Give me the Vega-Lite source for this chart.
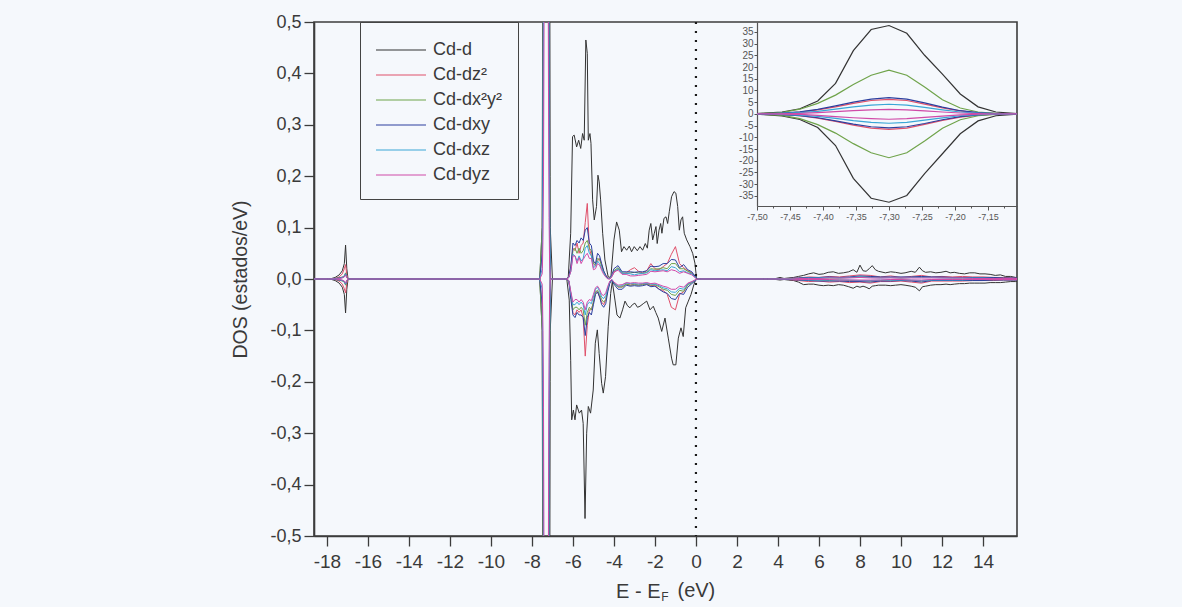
{
  "$schema": "https://vega.github.io/schema/vega-lite/v6.json",
  "width": 703,
  "height": 514,
  "autosize": {"type": "none"},
  "padding": {"left": 314, "top": 22, "right": 165, "bottom": 71},
  "background": "#f5f8fc",
  "config": {
    "view": {"stroke": "#3c3c3c", "strokeWidth": 1.6},
    "font": "Liberation Sans",
    "axis": {
      "grid": false,
      "domainColor": "#3c3c3c",
      "tickColor": "#3c3c3c",
      "labelColor": "#3a3a3a",
      "titleColor": "#3a3a3a",
      "labelFont": "Liberation Sans",
      "titleFont": "Liberation Sans",
      "titleFontWeight": "normal",
      "labelFlush": false,
      "labelOverlap": false,
      "labelBound": false
    }
  },
  "datasets": {
    "dos": [
      {"s": "u", "e": [-18.63, -17.95, -16.9, -7.62, -7.0, -6.4, 0.2, 3.3],
       "Cd-d": [0, 0, 0, 0, 0, 0, 0, 0], "Cd-dz²": [0, 0, 0, 0, 0, 0, 0, 0], "Cd-dx²y²": [0, 0, 0, 0, 0, 0, 0, 0],
       "Cd-dxy": [0, 0, 0, 0, 0, 0, 0, 0], "Cd-dxz": [0, 0, 0, 0, 0, 0, 0, 0], "Cd-dyz": [0, 0, 0, 0, 0, 0, 0, 0]},
      {"s": "d", "e": [-18.63, -17.95, -16.9, -7.62, -7.0, -6.4, 0.2, 3.3],
       "Cd-d": [0, 0, 0, 0, 0, 0, 0, 0], "Cd-dz²": [0, 0, 0, 0, 0, 0, 0, 0], "Cd-dx²y²": [0, 0, 0, 0, 0, 0, 0, 0],
       "Cd-dxy": [0, 0, 0, 0, 0, 0, 0, 0], "Cd-dxz": [0, 0, 0, 0, 0, 0, 0, 0], "Cd-dyz": [0, 0, 0, 0, 0, 0, 0, 0]},

      {"s": "u", "e": [-17.85, -17.6, -17.4, -17.25, -17.15, -17.09, -17.03, -16.97],
       "Cd-d": [0, 0.003, 0.008, 0.016, 0.03, 0.066, 0.02, 0],
       "Cd-dz²": [0, 0.001, 0.004, 0.01, 0.02, 0.028, 0.008, 0],
       "Cd-dx²y²": [0, 0.001, 0.002, 0.004, 0.006, 0.012, 0.004, 0],
       "Cd-dxy": [0, 0.001, 0.002, 0.003, 0.005, 0.01, 0.003, 0],
       "Cd-dxz": [0, 0, 0.001, 0.003, 0.005, 0.01, 0.003, 0],
       "Cd-dyz": [0, 0, 0.001, 0.002, 0.004, 0.008, 0.002, 0]},
      {"s": "d", "e": [-17.85, -17.6, -17.4, -17.25, -17.15, -17.09, -17.03, -16.97],
       "Cd-d": [0, -0.003, -0.008, -0.016, -0.03, -0.066, -0.02, 0],
       "Cd-dz²": [0, -0.001, -0.004, -0.01, -0.019, -0.027, -0.008, 0],
       "Cd-dx²y²": [0, -0.001, -0.002, -0.004, -0.006, -0.012, -0.004, 0],
       "Cd-dxy": [0, -0.001, -0.002, -0.003, -0.005, -0.01, -0.003, 0],
       "Cd-dxz": [0, 0, -0.001, -0.003, -0.005, -0.01, -0.003, 0],
       "Cd-dyz": [0, 0, -0.001, -0.002, -0.004, -0.008, -0.002, 0]},

      {"s": "u", "e": [-7.5, -7.489, -7.462, -7.435, -7.408, -7.381, -7.354, -7.327, -7.3, -7.273, -7.246, -7.219, -7.192, -7.165, -7.138, -7.111, -7.106],
       "Cd-d": [0.1, 0.3, 0.8, 2.2, 5.5, 13, 27, 36, 37.7, 34.4, 25, 17, 8.5, 3, 0.8, 0.2, 0.1],
       "Cd-dz²": [0.05, 0.1, 0.27, 0.75, 1.7, 3.0, 4.5, 5.7, 6.2, 5.7, 4.2, 2.6, 1.25, 0.47, 0.1, 0.03, 0],
       "Cd-dx²y²": [0.1, 0.2, 0.6, 2, 4.5, 8, 12.5, 16.5, 18.7, 16.5, 11.5, 6, 2.5, 0.8, 0.2, 0.05, 0],
       "Cd-dxy": [0.05, 0.1, 0.32, 0.85, 1.9, 3.4, 5.0, 6.3, 6.9, 6.3, 4.7, 2.9, 1.35, 0.5, 0.15, 0.05, 0],
       "Cd-dxz": [0.02, 0.05, 0.2, 0.5, 1.1, 2, 2.95, 3.7, 4.1, 3.7, 2.75, 1.75, 0.8, 0.3, 0.1, 0.02, 0],
       "Cd-dyz": [0.01, 0.02, 0.08, 0.2, 0.5, 0.95, 1.35, 1.7, 1.9, 1.7, 1.25, 0.8, 0.37, 0.12, 0.03, 0.01, 0]},
      {"s": "d", "e": [-7.5, -7.489, -7.462, -7.435, -7.408, -7.381, -7.354, -7.327, -7.3, -7.273, -7.246, -7.219, -7.192, -7.165, -7.138, -7.111, -7.106],
       "Cd-d": [-0.1, -0.3, -0.9, -2.4, -5.8, -13.5, -27.5, -36, -37.7, -34.8, -25.5, -17, -8.5, -3, -0.8, -0.2, -0.1],
       "Cd-dz²": [-0.05, -0.1, -0.29, -0.8, -1.8, -3.2, -4.8, -6.1, -6.6, -6.1, -4.5, -2.8, -1.35, -0.5, -0.1, -0.03, 0],
       "Cd-dx²y²": [-0.1, -0.2, -0.6, -2, -4.6, -8.2, -12.7, -16.6, -18.7, -16.6, -11.6, -6.1, -2.5, -0.8, -0.2, -0.05, 0],
       "Cd-dxy": [-0.05, -0.1, -0.28, -0.75, -1.65, -3.0, -4.4, -5.5, -6.0, -5.5, -4.1, -2.5, -1.2, -0.45, -0.12, -0.04, 0],
       "Cd-dxz": [-0.02, -0.05, -0.2, -0.5, -1.05, -1.95, -2.9, -3.6, -4.0, -3.6, -2.7, -1.7, -0.8, -0.3, -0.1, -0.02, 0],
       "Cd-dyz": [-0.01, -0.03, -0.1, -0.25, -0.6, -1.15, -1.65, -2.05, -2.3, -2.05, -1.5, -0.95, -0.45, -0.15, -0.04, -0.01, 0]},

      {"s": "u", "e": [-6.3, -6.23, -6.11, -6.02, -5.94, -5.82, -5.72, -5.62, -5.53, -5.45, -5.37, -5.3, -5.25, -5.17, -5.12, -5.04, -4.96, -4.85, -4.78, -4.72, -4.65, -4.55, -4.44, -4.28, -4.15, -4.0, -3.87, -3.74, -3.63, -3.51, -3.38, -3.25, -3.14, -3.01, -2.86, -2.73, -2.6, -2.47, -2.37, -2.28, -2.2, -2.11, -2.03, -1.95, -1.89, -1.8, -1.72, -1.66, -1.56, -1.46, -1.38, -1.3, -1.19, -1.07, -0.98, -0.89, -0.81, -0.73, -0.65, -0.57, -0.45, -0.29, -0.16, -0.05, 0.03, 0.1],
       "Cd-d": [0, 0.002, 0.089, 0.277, 0.28, 0.257, 0.27, 0.254, 0.283, 0.27, 0.465, 0.439, 0.27, 0.283, 0.264, 0.154, 0.115, 0.141, 0.202, 0.189, 0.154, 0.089, 0.037, 0.004, 0.003, 0.076, 0.111, 0.095, 0.053, 0.063, 0.056, 0.064, 0.053, 0.063, 0.055, 0.063, 0.056, 0.069, 0.06, 0.095, 0.108, 0.076, 0.089, 0.102, 0.069, 0.095, 0.108, 0.089, 0.118, 0.121, 0.108, 0.131, 0.16, 0.17, 0.167, 0.141, 0.095, 0.115, 0.121, 0.089, 0.076, 0.063, 0.05, 0.031, 0.001, 0],
       "Cd-dz²": [], "Cd-dx²y²": [], "Cd-dxy": [], "Cd-dxz": [], "Cd-dyz": []},
      {"s": "d", "e": [-6.3, -6.18, -6.11, -6.06, -5.98, -5.9, -5.82, -5.69, -5.58, -5.5, -5.41, -5.33, -5.25, -5.14, -5.01, -4.91, -4.81, -4.72, -4.6, -4.52, -4.41, -4.28, -4.16, -4.08, -3.95, -3.85, -3.71, -3.58, -3.46, -3.34, -3.22, -3.1, -2.98, -2.85, -2.73, -2.57, -2.4, -2.24, -2.08, -1.96, -1.84, -1.67, -1.51, -1.35, -1.19, -1.11, -0.98, -0.86, -0.73, -0.62, -0.5, -0.37, -0.24, -0.1, 0.0, 0.1],
       "Cd-d": [0, -0.041, -0.158, -0.274, -0.255, -0.274, -0.245, -0.261, -0.255, -0.281, -0.466, -0.3, -0.248, -0.261, -0.216, -0.125, -0.099, -0.145, -0.203, -0.222, -0.19, -0.093, -0.028, -0.005, -0.041, -0.07, -0.076, -0.06, -0.043, -0.052, -0.056, -0.05, -0.047, -0.055, -0.053, -0.048, -0.043, -0.06, -0.053, -0.065, -0.076, -0.102, -0.076, -0.115, -0.154, -0.167, -0.167, -0.115, -0.095, -0.112, -0.056, -0.043, -0.03, -0.011, 0, 0],
       "Cd-dz²": [], "Cd-dx²y²": [], "Cd-dxy": [], "Cd-dxz": [], "Cd-dyz": []},

      {"s": "u", "e": [-6.3, -6.2, -6.1, -6.0, -5.9, -5.8, -5.7, -5.6, -5.5, -5.4, -5.3, -5.2, -5.1, -5.0, -4.9, -4.8, -4.7, -4.6, -4.5, -4.4, -4.3, -4.2, -4.1, -4.0, -3.8, -3.6, -3.4, -3.2, -3.0, -2.8, -2.6, -2.4, -2.2, -2.0, -1.8, -1.6, -1.4, -1.2, -1.0, -0.8, -0.6, -0.4, -0.2, 0.0, 0.1],
       "Cd-d": [],
       "Cd-dz²": [0, 0.005, 0.025, 0.06, 0.055, 0.07, 0.05, 0.065, 0.07, 0.11, 0.147, 0.06, 0.045, 0.03, 0.025, 0.035, 0.04, 0.028, 0.015, 0.008, 0.002, 0, 0.005, 0.012, 0.02, 0.01, 0.012, 0.018, 0.022, 0.015, 0.012, 0.016, 0.03, 0.02, 0.018, 0.024, 0.03, 0.048, 0.063, 0.03, 0.022, 0.016, 0.012, 0.002, 0],
       "Cd-dx²y²": [0, 0.004, 0.02, 0.055, 0.06, 0.05, 0.06, 0.05, 0.055, 0.07, 0.075, 0.06, 0.055, 0.03, 0.028, 0.04, 0.038, 0.025, 0.013, 0.006, 0.001, 0.001, 0.006, 0.016, 0.022, 0.012, 0.011, 0.012, 0.013, 0.012, 0.011, 0.013, 0.02, 0.019, 0.02, 0.022, 0.02, 0.03, 0.03, 0.02, 0.02, 0.015, 0.011, 0.002, 0],
       "Cd-dxy": [0, 0.005, 0.025, 0.07, 0.065, 0.075, 0.07, 0.08, 0.075, 0.095, 0.1, 0.07, 0.065, 0.035, 0.03, 0.05, 0.045, 0.03, 0.016, 0.007, 0.001, 0.001, 0.008, 0.02, 0.026, 0.014, 0.014, 0.014, 0.013, 0.014, 0.014, 0.016, 0.025, 0.024, 0.025, 0.03, 0.03, 0.038, 0.037, 0.022, 0.028, 0.018, 0.014, 0.003, 0],
       "Cd-dxz": [0, 0.003, 0.015, 0.048, 0.045, 0.035, 0.045, 0.035, 0.04, 0.06, 0.065, 0.05, 0.045, 0.022, 0.025, 0.035, 0.03, 0.02, 0.012, 0.005, 0.001, 0.001, 0.006, 0.014, 0.02, 0.011, 0.011, 0.01, 0.008, 0.01, 0.011, 0.012, 0.018, 0.016, 0.017, 0.018, 0.016, 0.024, 0.022, 0.014, 0.016, 0.012, 0.01, 0.002, 0],
       "Cd-dyz": [0, 0.003, 0.015, 0.045, 0.045, 0.03, 0.042, 0.03, 0.038, 0.045, 0.05, 0.04, 0.04, 0.018, 0.02, 0.03, 0.027, 0.017, 0.009, 0.004, 0, 0, 0.005, 0.014, 0.017, 0.009, 0.009, 0.006, 0.006, 0.007, 0.008, 0.009, 0.015, 0.014, 0.015, 0.016, 0.014, 0.018, 0.016, 0.011, 0.014, 0.011, 0.008, 0.001, 0]},
      {"s": "d", "e": [-6.3, -6.2, -6.1, -6.0, -5.9, -5.8, -5.7, -5.6, -5.5, -5.4, -5.3, -5.2, -5.1, -5.0, -4.9, -4.8, -4.7, -4.6, -4.5, -4.4, -4.3, -4.2, -4.1, -4.0, -3.8, -3.6, -3.4, -3.2, -3.0, -2.8, -2.6, -2.4, -2.2, -2.0, -1.8, -1.6, -1.4, -1.2, -1.0, -0.8, -0.6, -0.4, -0.2, 0.0, 0.1],
       "Cd-d": [],
       "Cd-dz²": [0, -0.004, -0.03, -0.065, -0.07, -0.06, -0.065, -0.06, -0.075, -0.15, -0.09, -0.06, -0.06, -0.045, -0.025, -0.025, -0.035, -0.045, -0.05, -0.04, -0.02, -0.006, -0.002, -0.008, -0.016, -0.015, -0.01, -0.012, -0.01, -0.012, -0.01, -0.01, -0.013, -0.012, -0.02, -0.022, -0.03, -0.055, -0.06, -0.03, -0.025, -0.01, -0.006, -0.001, 0],
       "Cd-dx²y²": [0, -0.004, -0.03, -0.06, -0.055, -0.055, -0.06, -0.055, -0.06, -0.09, -0.065, -0.055, -0.06, -0.045, -0.025, -0.022, -0.03, -0.04, -0.045, -0.04, -0.02, -0.006, -0.002, -0.008, -0.015, -0.016, -0.01, -0.012, -0.011, -0.012, -0.011, -0.009, -0.012, -0.011, -0.015, -0.02, -0.022, -0.03, -0.032, -0.022, -0.024, -0.012, -0.007, -0.001, 0],
       "Cd-dxy": [0, -0.005, -0.04, -0.07, -0.075, -0.065, -0.07, -0.07, -0.075, -0.11, -0.075, -0.065, -0.07, -0.05, -0.03, -0.025, -0.035, -0.05, -0.055, -0.048, -0.025, -0.008, -0.002, -0.01, -0.02, -0.02, -0.012, -0.014, -0.013, -0.014, -0.013, -0.011, -0.015, -0.014, -0.02, -0.025, -0.028, -0.038, -0.04, -0.028, -0.03, -0.016, -0.009, -0.002, 0],
       "Cd-dxz": [0, -0.003, -0.028, -0.05, -0.05, -0.045, -0.05, -0.045, -0.05, -0.07, -0.05, -0.045, -0.048, -0.035, -0.02, -0.016, -0.024, -0.035, -0.038, -0.032, -0.017, -0.005, -0.001, -0.007, -0.014, -0.013, -0.008, -0.009, -0.009, -0.01, -0.009, -0.008, -0.01, -0.01, -0.013, -0.017, -0.019, -0.025, -0.026, -0.018, -0.02, -0.01, -0.006, -0.001, 0],
       "Cd-dyz": [0, -0.003, -0.025, -0.045, -0.04, -0.04, -0.045, -0.04, -0.045, -0.06, -0.045, -0.04, -0.042, -0.03, -0.017, -0.014, -0.02, -0.03, -0.032, -0.027, -0.014, -0.004, -0.001, -0.006, -0.012, -0.011, -0.007, -0.008, -0.007, -0.008, -0.008, -0.007, -0.009, -0.008, -0.011, -0.014, -0.016, -0.02, -0.02, -0.014, -0.016, -0.008, -0.005, -0.001, 0]},

      {"s": "u", "e": [3.5, 3.9, 4.1, 4.3, 4.5, 4.76, 5.0, 5.25, 5.5, 5.74, 6.0, 6.22, 6.45, 6.7, 6.95, 7.19, 7.45, 7.67, 7.85, 8.0, 8.15, 8.3, 8.45, 8.6, 8.75, 8.9, 9.24, 9.5, 9.73, 10.0, 10.2, 10.5, 10.7, 10.9, 11.05, 11.2, 11.45, 11.7, 11.95, 12.2, 12.4, 12.6, 12.85, 13.1, 13.35, 13.6, 13.85, 14.1, 14.35, 14.6, 14.85, 15.1, 15.35, 15.6, 15.7],
       "Cd-d": [0, 0.001, 0.003, 0.001, 0.002, 0.003, 0.005, 0.007, 0.01, 0.012, 0.009, 0.01, 0.013, 0.014, 0.011, 0.012, 0.014, 0.018, 0.013, 0.027, 0.016, 0.015, 0.02, 0.026, 0.018, 0.015, 0.012, 0.014, 0.013, 0.011, 0.012, 0.015, 0.013, 0.023, 0.016, 0.013, 0.014, 0.012, 0.013, 0.015, 0.012, 0.013, 0.011, 0.01, 0.012, 0.012, 0.01, 0.01, 0.009, 0.007, 0.008, 0.005, 0.005, 0.003, 0.003],
       "Cd-dz²": [], "Cd-dx²y²": [], "Cd-dxy": [], "Cd-dxz": [], "Cd-dyz": []},
      {"s": "d", "e": [3.5, 3.9, 4.1, 4.3, 4.5, 4.76, 5.0, 5.25, 5.5, 5.74, 6.0, 6.22, 6.45, 6.7, 6.95, 7.19, 7.45, 7.67, 7.85, 8.0, 8.15, 8.3, 8.45, 8.6, 8.75, 8.9, 9.24, 9.5, 9.73, 10.0, 10.2, 10.5, 10.7, 10.9, 11.05, 11.2, 11.45, 11.7, 11.95, 12.2, 12.4, 12.6, 12.85, 13.1, 13.35, 13.6, 13.85, 14.1, 14.35, 14.6, 14.85, 15.1, 15.35, 15.6, 15.7],
       "Cd-d": [0, -0.001, -0.002, -0.001, -0.002, -0.003, -0.006, -0.011, -0.01, -0.01, -0.012, -0.013, -0.012, -0.013, -0.011, -0.012, -0.015, -0.018, -0.014, -0.016, -0.014, -0.016, -0.019, -0.014, -0.013, -0.012, -0.012, -0.013, -0.012, -0.011, -0.012, -0.014, -0.016, -0.023, -0.015, -0.014, -0.012, -0.011, -0.011, -0.01, -0.011, -0.01, -0.009, -0.009, -0.008, -0.008, -0.008, -0.008, -0.007, -0.007, -0.007, -0.006, -0.005, -0.005, -0.004],
       "Cd-dz²": [], "Cd-dx²y²": [], "Cd-dxy": [], "Cd-dxz": [], "Cd-dyz": []},

      {"s": "u", "e": [3.5, 4, 4.5, 5, 5.5, 6, 6.5, 7, 7.5, 8, 8.5, 9, 9.5, 10, 10.5, 11, 11.5, 12, 12.5, 13, 13.5, 14, 14.5, 15, 15.5, 15.7],
       "Cd-d": [],
       "Cd-dz²": [0, 0, 0.001, 0.002, 0.004, 0.003, 0.005, 0.004, 0.006, 0.008, 0.007, 0.004, 0.006, 0.003, 0.005, 0.007, 0.004, 0.005, 0.004, 0.005, 0.004, 0.004, 0.003, 0.003, 0.002, 0.002],
       "Cd-dx²y²": [0, 0, 0, 0.001, 0.002, 0.002, 0.002, 0.002, 0.003, 0.004, 0.004, 0.003, 0.003, 0.002, 0.003, 0.004, 0.003, 0.003, 0.002, 0.002, 0.002, 0.002, 0.002, 0.001, 0.001, 0.001],
       "Cd-dxy": [0, 0, 0.001, 0.002, 0.003, 0.003, 0.004, 0.003, 0.004, 0.006, 0.005, 0.004, 0.004, 0.004, 0.004, 0.005, 0.004, 0.004, 0.003, 0.003, 0.003, 0.003, 0.003, 0.002, 0.002, 0.002],
       "Cd-dxz": [0, 0, 0, 0.001, 0.002, 0.002, 0.003, 0.002, 0.003, 0.004, 0.003, 0.002, 0.003, 0.002, 0.003, 0.003, 0.003, 0.002, 0.002, 0.002, 0.002, 0.002, 0.001, 0.001, 0.001, 0.001],
       "Cd-dyz": [0, 0, 0, 0.001, 0.001, 0.001, 0.002, 0.002, 0.002, 0.003, 0.002, 0.002, 0.002, 0.002, 0.002, 0.002, 0.002, 0.002, 0.002, 0.002, 0.001, 0.001, 0.001, 0.001, 0.001, 0.001]},
      {"s": "d", "e": [3.5, 4, 4.5, 5, 5.5, 6, 6.5, 7, 7.5, 8, 8.5, 9, 9.5, 10, 10.5, 11, 11.5, 12, 12.5, 13, 13.5, 14, 14.5, 15, 15.5, 15.7],
       "Cd-d": [],
       "Cd-dz²": [0, 0, -0.001, -0.003, -0.005, -0.004, -0.006, -0.005, -0.007, -0.006, -0.008, -0.005, -0.005, -0.004, -0.006, -0.008, -0.004, -0.004, -0.004, -0.004, -0.003, -0.003, -0.003, -0.002, -0.002, -0.002],
       "Cd-dx²y²": [0, 0, 0, -0.001, -0.002, -0.002, -0.003, -0.002, -0.003, -0.003, -0.004, -0.003, -0.002, -0.002, -0.003, -0.004, -0.002, -0.002, -0.002, -0.002, -0.002, -0.002, -0.001, -0.001, -0.001, -0.001],
       "Cd-dxy": [0, 0, -0.001, -0.002, -0.003, -0.004, -0.004, -0.004, -0.005, -0.005, -0.006, -0.004, -0.004, -0.003, -0.004, -0.006, -0.003, -0.003, -0.003, -0.003, -0.003, -0.003, -0.002, -0.002, -0.002, -0.002],
       "Cd-dxz": [0, 0, 0, -0.001, -0.002, -0.002, -0.002, -0.002, -0.002, -0.003, -0.003, -0.002, -0.002, -0.002, -0.002, -0.003, -0.002, -0.002, -0.002, -0.002, -0.001, -0.001, -0.001, -0.001, -0.001, -0.001],
       "Cd-dyz": [0, 0, 0, -0.001, -0.001, -0.001, -0.001, -0.002, -0.002, -0.002, -0.002, -0.002, -0.001, -0.001, -0.002, -0.002, -0.001, -0.001, -0.001, -0.001, -0.001, -0.001, -0.001, -0.001, -0.001, -0.001]}
    ]
  },
  "layer": [
    {
      "layer": [
        {
          "data": {"name": "dos"},
          "transform": [
            {"flatten": ["e", "Cd-d", "Cd-dz²", "Cd-dx²y²", "Cd-dxy", "Cd-dxz", "Cd-dyz"]},
            {"fold": ["Cd-d", "Cd-dz²", "Cd-dx²y²", "Cd-dxy", "Cd-dxz", "Cd-dyz"], "as": ["orb", "v"]},
            {"filter": "isValid(datum.v)"}
          ],
          "mark": {"type": "line", "clip": true, "strokeWidth": 1},
          "encoding": {
            "x": {
              "field": "e", "type": "quantitative",
              "scale": {"domain": [-18.63, 15.66], "nice": false, "zero": false},
              "axis": {
                "values": [-18, -17, -16, -15, -14, -13, -12, -11, -10, -9, -8, -7, -6, -5, -4, -3, -2, -1, 0, 1, 2, 3, 4, 5, 6, 7, 8, 9, 10, 11, 12, 13, 14, 15],
                "labelExpr": "datum.value % 2 === 0 ? toString(datum.value) : ''",
                "tickSize": {"condition": {"test": "datum.value % 2 !== 0", "value": 5}, "value": 10},
                "tickWidth": 1.3,
                "domainWidth": 1.6,
                "labelFontSize": 19,
                "labelPadding": 6,
                "title": "E - E",
                "titleFontSize": 20,
                "titleX": 346,
                "titleY": 61,
                "titleAlign": "right",
                "titleBaseline": "alphabetic"
              }
            },
            "y": {
              "field": "v", "type": "quantitative",
              "scale": {"domain": [-0.5, 0.5], "nice": false, "zero": false},
              "axis": {
                "values": [-0.5, -0.45, -0.4, -0.35, -0.3, -0.25, -0.2, -0.15, -0.1, -0.05, 0, 0.05, 0.1, 0.15, 0.2, 0.25, 0.3, 0.35, 0.4, 0.45, 0.5],
                "labelExpr": "abs(round(datum.value * 100)) % 10 === 0 ? replace(replace(format(datum.value, '.1f'), '.', ','), '−', '-') : ''",
                "tickSize": {"condition": {"test": "abs(round(datum.value * 100)) % 10 !== 0", "value": 5}, "value": 10},
                "tickWidth": 1.3,
                "domainWidth": 1.6,
                "labelFontSize": 18,
                "labelPadding": 3,
                "title": "DOS (estados/eV)",
                "titleFontSize": 19.5,
                "titlePadding": 19
              }
            },
            "color": {
              "field": "orb", "type": "nominal",
              "scale": {
                "domain": ["Cd-d", "Cd-dz²", "Cd-dx²y²", "Cd-dxy", "Cd-dxz", "Cd-dyz"],
                "range": ["#333333", "#e0506a", "#6fa34a", "#2c3f9e", "#3aa6d6", "#d04aa8"]
              },
              "legend": {
                "orient": "none",
                "legendX": 46,
                "legendY": 0,
                "title": null,
                "direction": "vertical",
                "strokeColor": "#444444",
                "padding": 15,
                "symbolType": "M -1 0 L 3.17 0",
                "symbolSize": 576,
                "symbolStrokeWidth": 1.2,
                "labelFontSize": 18,
                "labelFont": "Liberation Sans",
                "labelColor": "#3a3a3a",
                "labelOffset": 32,
                "rowPadding": 3
              }
            },
            "detail": {"field": "s"}
          }
        },
        {
          "data": {"values": [{}]},
          "mark": {"type": "rule", "strokeDash": [2, 7], "strokeWidth": 2.2, "color": "#1a1a1a"},
          "encoding": {"x": {"datum": 0}}
        },
        {
          "data": {"values": [{}]},
          "mark": {"type": "text", "text": "F", "font": "Liberation Sans", "fontSize": 12, "color": "#3a3a3a", "baseline": "alphabetic", "align": "center"},
          "encoding": {"x": {"datum": -1.51}, "y": {"datum": -0.626}}
        },
        {
          "data": {"values": [{}]},
          "mark": {"type": "text", "text": "(eV)", "font": "Liberation Sans", "fontSize": 20, "color": "#3a3a3a", "baseline": "alphabetic", "align": "left"},
          "encoding": {"x": {"datum": -0.9}, "y": {"datum": -0.6187}}
        }
      ]
    },
    {
      "data": {"name": "dos"},
      "transform": [
        {"flatten": ["e", "Cd-d", "Cd-dz²", "Cd-dx²y²", "Cd-dxy", "Cd-dxz", "Cd-dyz"]},
        {"fold": ["Cd-d", "Cd-dz²", "Cd-dx²y²", "Cd-dxy", "Cd-dxz", "Cd-dyz"], "as": ["orb", "v"]},
        {"filter": "isValid(datum.v)"},
        {"filter": {"field": "e", "range": [-7.5, -7.106]}}
      ],
      "mark": {"type": "line", "strokeWidth": 1.2},
      "encoding": {
        "x": {
          "field": "e", "type": "quantitative",
          "scale": {"domain": [-7.5, -7.106], "range": [443, 703], "nice": false, "zero": false},
          "axis": {
            "orient": "bottom",
            "offset": -330,
            "values": [-7.5, -7.475, -7.45, -7.425, -7.4, -7.375, -7.35, -7.325, -7.3, -7.275, -7.25, -7.225, -7.2, -7.175, -7.15, -7.125],
            "labelExpr": "abs(round(datum.value * 1000)) % 50 === 0 ? replace(replace(format(datum.value, '.2f'), '.', ','), '−', '-') : ''",
            "tickSize": {"condition": {"test": "abs(round(datum.value * 1000)) % 50 !== 0", "value": 2}, "value": 4},
            "tickWidth": 1,
            "domainWidth": 1.2,
            "domainColor": "#555555",
            "tickColor": "#555555",
            "labelColor": "#555555",
            "labelFontSize": 9,
            "labelPadding": 2,
            "title": null
          }
        },
        "y": {
          "field": "v", "type": "quantitative",
          "scale": {"domain": [-39.3, 39.2], "range": [184, 0], "nice": false, "zero": false},
          "axis": {
            "orient": "left",
            "offset": -443,
            "values": [-35, -30, -25, -20, -15, -10, -5, 0, 5, 10, 15, 20, 25, 30, 35],
            "labelExpr": "toString(datum.value)",
            "tickSize": 3,
            "tickWidth": 1,
            "domainWidth": 1.2,
            "domainColor": "#555555",
            "tickColor": "#555555",
            "labelColor": "#555555",
            "labelFontSize": 10,
            "labelPadding": 1,
            "title": null
          }
        },
        "color": {"field": "orb", "type": "nominal", "legend": null},
        "detail": {"field": "s"}
      }
    }
  ],
  "resolve": {"scale": {"x": "independent", "y": "independent"}}
}
